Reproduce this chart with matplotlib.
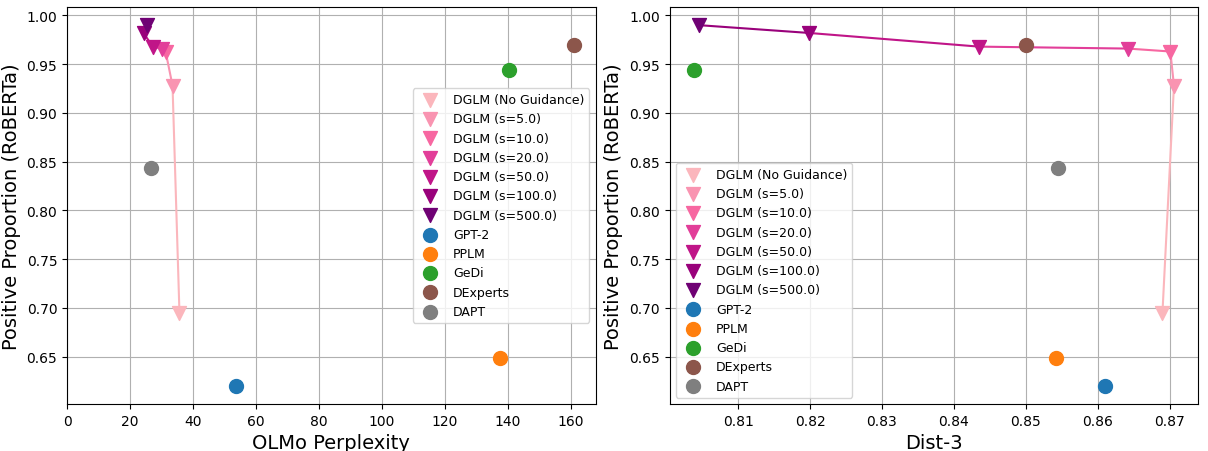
import numpy as np
import matplotlib
matplotlib.use("Agg")
import matplotlib.pyplot as plt

# DGLM guidance sweep (ordered from no guidance to strongest)
dglm_labels = ["DGLM (No Guidance)", "DGLM (s=5.0)", "DGLM (s=10.0)", "DGLM (s=20.0)",
               "DGLM (s=50.0)", "DGLM (s=100.0)", "DGLM (s=500.0)"]
dglm_ppl = [35.7, 33.5, 31.3, 30.0, 27.2, 24.3, 25.3]
dglm_dist3 = [0.8690, 0.8706, 0.8701, 0.8642, 0.8435, 0.8199, 0.8046]
dglm_pos = [0.695, 0.928, 0.963, 0.966, 0.968, 0.982, 0.990]

# baselines
base_labels = ["GPT-2", "PPLM", "GeDi", "DExperts", "DAPT"]
base_ppl = [53.7, 137.4, 140.5, 161.0, 26.8]
base_dist3 = [0.8610, 0.8542, 0.8038, 0.8500, 0.8545]
base_pos = [0.620, 0.649, 0.944, 0.970, 0.844]
base_colors = ["tab:blue", "tab:orange", "tab:green", "tab:brown", "tab:gray"]

dglm_colors = plt.cm.RdPu(np.linspace(0.3, 0.9, len(dglm_labels)))


def draw_panel(ax, xs, bxs, xlabel, legend_loc):
    # connecting segments, each coloured by its starting point
    for i in range(len(xs) - 1):
        ax.plot(xs[i:i + 2], dglm_pos[i:i + 2], color=dglm_colors[i], zorder=2)
    for i, lab in enumerate(dglm_labels):
        ax.scatter(xs[i], dglm_pos[i], marker="v", s=100, color=dglm_colors[i],
                   label=lab, zorder=3)
    for i, lab in enumerate(base_labels):
        ax.scatter(bxs[i], base_pos[i], marker="o", s=100, color=base_colors[i],
                   label=lab, zorder=3)
    ax.set_xlabel(xlabel, fontsize=14)
    ax.set_ylabel("Positive Proportion (RoBERTa)", fontsize=14)
    ax.grid(True)
    ax.set_axisbelow(True)
    ax.legend(loc=legend_loc, fontsize=9)


fig, (ax1, ax2) = plt.subplots(1, 2, figsize=(12.08, 4.52), dpi=100)
fig.subplots_adjust(left=0.0555, right=0.9917, top=0.982, bottom=0.104, wspace=0.14)

draw_panel(ax1, dglm_ppl, base_ppl, "OLMo Perplexity", "center right")
ax1.set_xlim(left=0)
draw_panel(ax2, dglm_dist3, base_dist3, "Dist-3", "lower left")

fig.savefig("out.png")
